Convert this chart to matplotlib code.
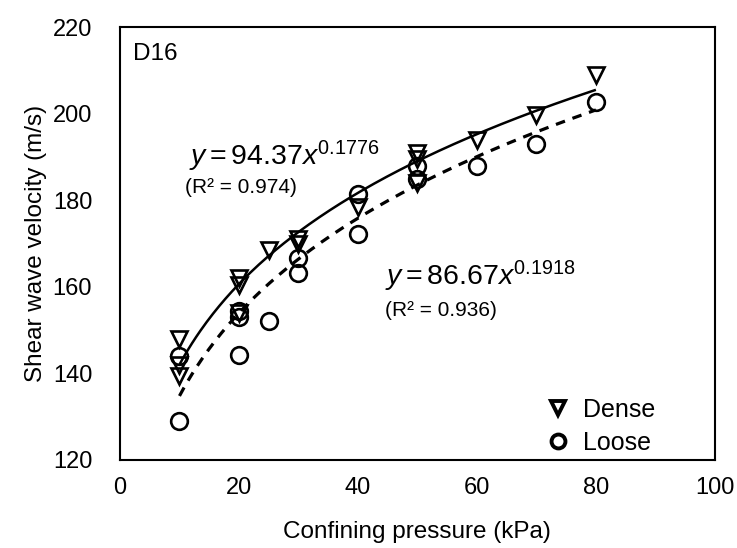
import numpy as np
import matplotlib
matplotlib.use('Agg')
import matplotlib.pyplot as plt

plt.rcParams['font.family'] = ['Liberation Sans', 'DejaVu Sans']
plt.rcParams['mathtext.fontset'] = 'custom'
plt.rcParams['mathtext.rm'] = 'Liberation Sans'
plt.rcParams['mathtext.it'] = 'Liberation Sans:italic'

# values
dense_x = [10, 10, 10, 20, 20, 20, 25, 30, 30, 40, 50, 50, 50, 60, 70, 80]
dense_vs = [148, 142, 139.5, 162, 160.5, 154, 168.6, 171, 169.8, 178.5,
            191, 189.5, 184, 194, 199.7, 209]
loose_x = [10, 10, 20, 20, 20, 25, 30, 30, 40, 40, 50, 50, 60, 70, 80]
loose_vs = [144, 129, 154.5, 153, 144.3, 152, 166.7, 163.2, 181.5, 172.3,
            188, 185, 188, 193, 202.6]

# fitted power laws printed on the chart
dense_a, dense_b, dense_r2 = 94.37, 0.1776, 0.974
loose_a, loose_b, loose_r2 = 86.67, 0.1918, 0.936
fit_range = (10, 80)

xticks = [0, 20, 40, 60, 80, 100]
yticks = [120, 140, 160, 180, 200, 220]

fig = plt.figure(figsize=(7.37, 5.48), dpi=100)
ax = fig.add_axes([0.1628, 0.1606, 0.8072, 0.790])

xs = np.linspace(fit_range[0], fit_range[1], 200)
ax.plot(xs, dense_a * xs ** dense_b, color='black', lw=1.8, solid_capstyle='butt')
ax.plot(xs, loose_a * xs ** loose_b, color='black', lw=2.3, dashes=(3, 2.5))

ax.plot(dense_x, dense_vs, linestyle='none', marker='v', ms=12, mfc='none',
        mec='black', mew=1.9, label='Dense')
ax.plot(loose_x, loose_vs, linestyle='none', marker='o', ms=12, mfc='none',
        mec='black', mew=1.9, label='Loose')

ax.set_xlim(0, 100)
ax.set_ylim(120, 220)
ax.set_xticks(xticks)
ax.set_yticks(yticks)
ax.tick_params(length=0, labelsize=17)
ax.tick_params(axis='y', pad=20)
ax.tick_params(axis='x', pad=12)
for s in ax.spines.values():
    s.set_linewidth(1.5)

ax.set_xlabel('Confining pressure (kPa)', fontsize=17.5, labelpad=16)
ax.set_ylabel('Shear wave velocity (m/s)', fontsize=17.5, labelpad=4)

ax.text(0.022, 0.937, 'D16', transform=ax.transAxes, fontsize=17.5, va='center')
ax.text(0.116, 0.681, r'$y = %.2fx^{%.4f}$' % (dense_a, dense_b),
        transform=ax.transAxes, fontsize=20.5, va='baseline')
ax.text(0.109, 0.630, '(R² = %.3f)' % dense_r2, transform=ax.transAxes,
        fontsize=15, va='center')
ax.text(0.445, 0.404, r'$y = %.2fx^{%.4f}$' % (loose_a, loose_b),
        transform=ax.transAxes, fontsize=20.5, va='baseline')
ax.text(0.445, 0.346, '(R² = %.3f)' % loose_r2, transform=ax.transAxes,
        fontsize=15, va='center')

leg = ax.legend(loc='lower left', frameon=False, fontsize=18, handletextpad=0.5,
                borderaxespad=0.0, borderpad=0.0, labelspacing=0.35,
                handlelength=1.0, bbox_to_anchor=(0.715, 0.012))
for h in leg.legend_handles:
    h.set_markersize(10)
    h.set_markeredgewidth(2.8)

fig.savefig('out.png', dpi=100)
